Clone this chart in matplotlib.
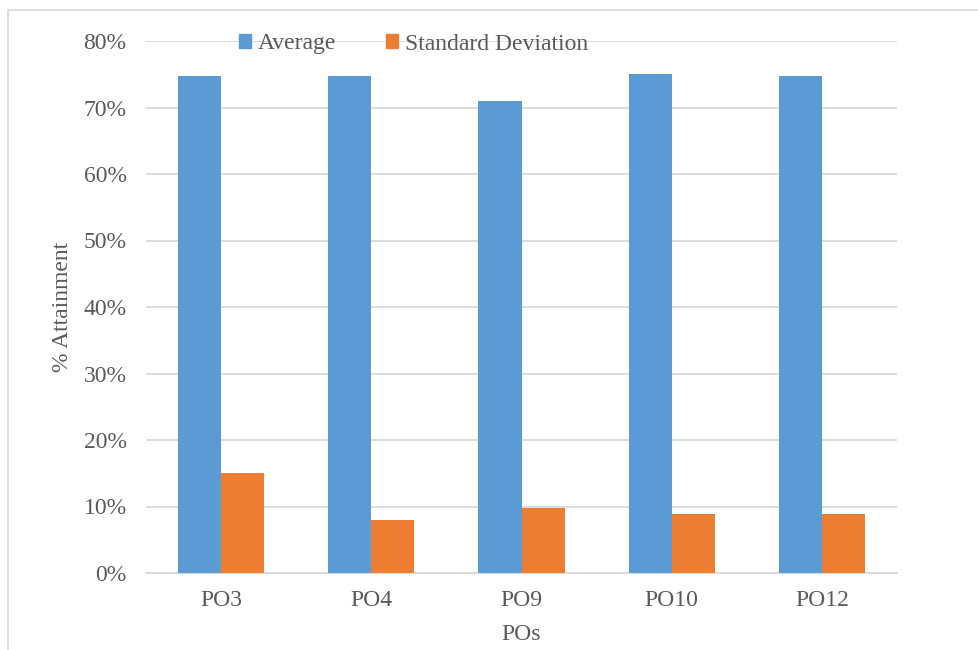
import matplotlib
matplotlib.use("Agg")
import matplotlib.pyplot as plt
import numpy as np
from matplotlib.patches import Patch, Rectangle

categories = ["PO3", "PO4", "PO9", "PO10", "PO12"]
average = [74.8, 74.8, 71.0, 75.1, 74.8]
std_dev = [15.1, 8.0, 9.8, 8.9, 8.9]
series_names = ["Average", "Standard Deviation"]
y_ticks = [0, 10, 20, 30, 40, 50, 60, 70, 80]

blue = "#5B9BD5"
orange = "#ED7D31"
text_col = "#595959"
grid_col = "#D9D9D9"
fs = 17

plt.rcParams['font.family'] = ['Liberation Serif', 'DejaVu Serif']

fig = plt.figure(figsize=(9.79, 6.5), dpi=100)
ax = fig.add_axes([146/979, 1 - 573/650, (897 - 146)/979, (573 - 41)/650])

x = np.arange(len(categories))
w = 0.287
ax.bar(x - w/2, average, width=w, color=blue, zorder=3)
ax.bar(x + w/2, std_dev, width=w, color=orange, zorder=3)

ax.set_xlim(-0.5, len(categories) - 0.5)
ax.set_ylim(0, 80)
ax.set_yticks(y_ticks)
ax.set_yticklabels([f"{t}%" for t in y_ticks])
ax.set_xticks(x)
ax.set_xticklabels(categories)
ax.tick_params(axis='both', length=0, labelsize=fs, colors=text_col)
ax.tick_params(axis='y', pad=14)
ax.tick_params(axis='x', pad=12)
ax.yaxis.grid(True, color=grid_col, linewidth=1.3, zorder=0)
ax.set_axisbelow(True)
for s in ['top', 'right', 'left']:
    ax.spines[s].set_visible(False)
ax.spines['bottom'].set_color(grid_col)
ax.spines['bottom'].set_linewidth(1.3)

ax.set_ylabel("% Attainment", fontsize=fs, color=text_col, va='center')
ax.yaxis.set_label_coords((62 - 146)/751, (573 - 307)/532)
ax.set_xlabel("POs", fontsize=fs, color=text_col, va='center')
ax.xaxis.set_label_coords(0.5, -(635 - 573)/532)

handles = [Patch(color=blue), Patch(color=orange)]
fig.legend(handles, series_names, loc='center left',
           bbox_to_anchor=(239/979, 1 - 44/650), ncol=2, frameon=False,
           fontsize=fs, labelcolor=text_col, handlelength=0.5, handleheight=0.5,
           handletextpad=0.3, columnspacing=2.1, borderaxespad=0, borderpad=0)

fig.patches.append(Rectangle((8/979, -0.1), 1.2, 1 - 10/650 + 0.1,
                             transform=fig.transFigure, fill=False,
                             edgecolor=grid_col, linewidth=1.2))

fig.savefig("out.png", dpi=100)
